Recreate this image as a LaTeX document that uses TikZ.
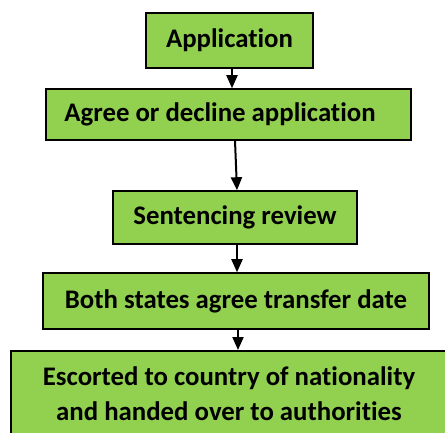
\documentclass[tikz,border=0pt]{standalone}
\usepackage{fontspec}
\setmainfont{Carlito}[Ligatures={NoCommon,NoContextual}]
\usepackage{xcolor}
\usetikzlibrary{positioning,arrows.meta}
\definecolor{stagegreen}{RGB}{146,208,80}
\tikzset{
  tr stage/.style={rectangle, draw, line width=0.75pt, fill=stagegreen, align=center, inner sep=0pt, font=\fontsize{13.4}{17.5}\selectfont\bfseries},
  tr arrow/.style={line width=1pt, -{Triangle[width=5.5pt,length=6.5pt]}}
}

\begin{document}
\begin{tikzpicture}[x=0.5pt, y=-0.5pt]
    \useasboundingbox (0,0) rectangle (445,433);
    \clip (0,0) rectangle (445,433);

    % Stages
    \node [tr stage, minimum width=83.5pt, minimum height=27.5pt] (App) at (229.5,40.5) {Application};
    \node [tr stage, minimum width=182.5pt, minimum height=25.5pt] (Agree) at (228.5,114.5) {Agree or decline application\hspace{8.5pt}};
    \node [tr stage, minimum width=122pt, minimum height=26.5pt] (Review) at (235,217.5) {Sentencing review};
    \node [tr stage, minimum width=193pt, minimum height=28pt] (Date) at (236,301) {Both states agree transfer date};
    \node [tr stage, minimum width=218pt, inner ysep=8pt, anchor=north] (Escort) at (229,350) {Escorted to country of nationality\\and handed over to authorities};

    % Connections
    \draw [tr arrow] ([xshift=1.25pt]App.south) -- ([xshift=1.75pt]Agree.north);
    \draw [tr arrow] ([xshift=3.25pt]Agree.south) -- ([xshift=1pt]Review.north);
    \draw [tr arrow] ([xshift=1pt]Review.south) -- ([xshift=0.5pt]Date.north);
    \draw [tr arrow] ([xshift=1pt]Date.south) -- ([xshift=4.5pt]Escort.north);
\end{tikzpicture}
\end{document}
